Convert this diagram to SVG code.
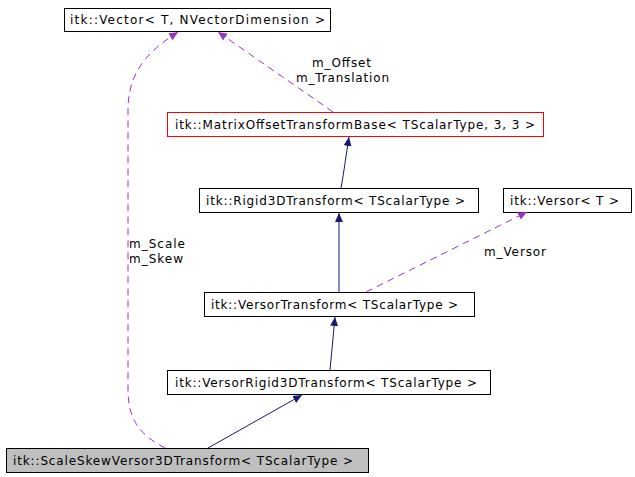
<svg xmlns="http://www.w3.org/2000/svg" width="635" height="477" viewBox="0 0 635 477">
<style>
text{font-family:"DejaVu Sans",sans-serif;font-size:12px;fill:#000}
.n rect{fill:#fff;stroke:#000;stroke-width:1}
.s{fill:none;stroke:#191970;stroke-width:1}
.d{fill:none;stroke:#9a32cd;stroke-width:1;stroke-dasharray:7,5}
</style>
<defs>
<marker id="as" markerWidth="10" markerHeight="10" refX="9" refY="5" orient="auto" markerUnits="userSpaceOnUse"><path d="M0,1 L9,5 L0,9 z" fill="#191970"/></marker>
<marker id="ad" markerWidth="10" markerHeight="10" refX="9" refY="5" orient="auto" markerUnits="userSpaceOnUse"><path d="M0,1 L9,5 L0,9 z" fill="#9a32cd"/></marker>
</defs>
<rect width="635" height="477" fill="#fff"/>
<g id="n-vector" class="n"><rect x="64.5" y="8.5" width="266" height="23"/><text x="70" y="24" textLength="255" lengthAdjust="spacing">itk::Vector&lt; T, NVectorDimension &gt;</text></g>
<g id="n-matrix" class="n"><rect x="167.5" y="112.5" width="376" height="24" style="stroke:#f00"/><text x="175" y="129" textLength="360" lengthAdjust="spacing">itk::MatrixOffsetTransformBase&lt; TScalarType, 3, 3 &gt;</text></g>
<g id="n-rigid" class="n"><rect x="199.5" y="188.5" width="279" height="24"/><text x="206" y="205" textLength="259" lengthAdjust="spacing">itk::Rigid3DTransform&lt; TScalarType &gt;</text></g>
<g id="n-versor" class="n"><rect x="503.5" y="188.5" width="128" height="24"/><text x="510" y="205" textLength="109" lengthAdjust="spacing">itk::Versor&lt; T &gt;</text></g>
<g id="n-vt" class="n"><rect x="204.5" y="292.5" width="270" height="24"/><text x="211" y="309" textLength="247" lengthAdjust="spacing">itk::VersorTransform&lt; TScalarType &gt;</text></g>
<g id="n-vr" class="n"><rect x="167.5" y="370.5" width="323" height="24"/><text x="175" y="387" textLength="302" lengthAdjust="spacing">itk::VersorRigid3DTransform&lt; TScalarType &gt;</text></g>
<g id="n-ss" class="n"><rect x="6.5" y="448.5" width="362" height="24" style="fill:#bfbfbf"/><text x="13" y="465" textLength="340" lengthAdjust="spacing">itk::ScaleSkewVersor3DTransform&lt; TScalarType &gt;</text></g>
<g id="connectors">
<path class="d" d="M333,112 L218,32" marker-end="url(#ad)"/>
<text x="312" y="67" textLength="59" lengthAdjust="spacing">m_Offset</text><text x="296" y="82" textLength="93" lengthAdjust="spacing">m_Translation</text>
<path class="s" d="M341,188 C344,172 346,155 349,137" marker-end="url(#as)"/>
<path class="s" d="M339,292 L339,213" marker-end="url(#as)"/>
<path class="d" d="M366,292 L527,212" marker-end="url(#ad)"/>
<text x="484" y="256" textLength="62" lengthAdjust="spacing">m_Versor</text>
<path class="s" d="M330,370 L335,317" marker-end="url(#as)"/>
<path class="s" d="M208,448 L302,395" marker-end="url(#as)"/>
<path class="d" d="M165,448 C140,435 128,420 128,390 L128,110 C128,70 150,50 178,32" marker-end="url(#ad)"/>
<text x="129" y="248" textLength="56" lengthAdjust="spacing">m_Scale</text><text x="129" y="263" textLength="54" lengthAdjust="spacing">m_Skew</text>
</g>
</svg>
